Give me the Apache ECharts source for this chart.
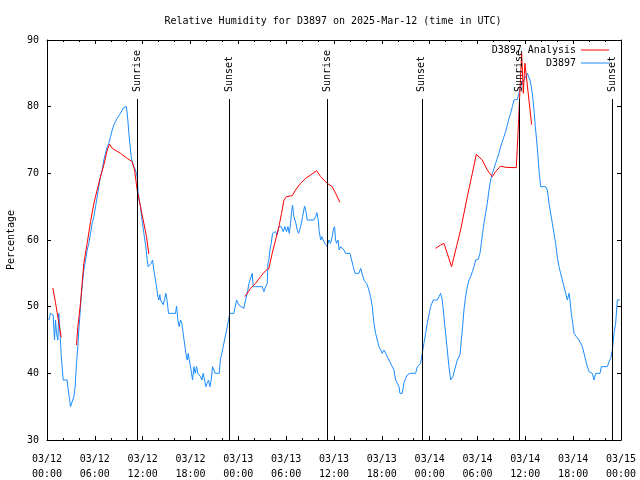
<!DOCTYPE html>
<html>
<head>
<meta charset="utf-8">
<script src="https://cdn.jsdelivr.net/npm/echarts@6/dist/echarts.min.js"></script>
<style>html,body{margin:0;padding:0;background:#fff;}#chart{width:640px;height:480px;}</style>
</head>
<body>
<div id="chart"></div>
<script>
// Hours since 2025-03-12 00:00 UTC
const obsHours = [0.23,0.44,0.77,0.94,1.07,1.19,1.36,1.48,1.61,1.78,1.90,2.03,2.53,2.61,2.78,2.95,3.20,3.37,3.53,3.70,3.87,3.99,4.12,4.29,4.45,4.62,4.83,5.04,5.25,5.46,5.67,5.88,6.09,6.29,6.50,6.71,6.92,7.13,7.34,7.55,7.76,7.97,8.18,8.39,8.59,8.80,9.01,9.22,9.43,9.64,9.85,9.97,10.14,10.27,10.39,10.56,10.73,10.89,11.10,11.31,11.44,11.56,11.73,11.86,11.98,12.15,12.27,12.40,12.57,12.69,12.90,13.07,13.24,13.40,13.61,13.74,13.91,14.03,14.16,14.24,14.41,14.57,14.74,14.91,15.08,15.24,16.12,16.25,16.42,16.58,16.75,16.92,17.08,17.25,17.42,17.59,17.71,17.84,18.00,18.26,18.42,18.59,18.76,18.92,19.09,19.26,19.43,19.59,19.76,19.93,20.10,20.26,20.43,20.60,20.77,20.93,21.10,21.60,21.77,21.94,22.10,22.27,22.44,22.61,22.77,22.94,
23.44,23.78,24.07,24.36,24.70,24.91,25.12,25.33,25.53,25.74,25.87,26.16,27.00,27.21,27.42,27.63,27.71,27.83,27.96,28.13,28.29,28.67,28.88,29.09,29.38,29.63,29.84,30.05,30.22,30.39,30.55,30.68,30.80,30.97,31.22,31.39,31.56,31.81,32.06,32.31,32.48,32.64,33.48,33.69,33.86,34.02,34.15,34.32,34.48,34.73,34.94,35.15,35.36,35.57,35.78,35.91,36.07,36.20,36.32,36.49,36.66,36.83,37.08,37.25,37.45,38.00,38.21,38.42,38.62,39.13,39.34,39.54,39.75,40.09,40.38,40.59,40.80,41.01,41.22,41.43,41.64,41.85,42.05,42.26,42.47,42.68,42.89,43.10,43.31,43.52,43.73,43.94,44.15,44.27,44.56,44.77,44.98,45.19,45.53,
46.24,46.45,46.86,47.07,47.28,47.49,47.70,47.91,48.12,48.45,48.96,49.17,49.37,49.58,49.79,50.00,50.21,50.42,50.63,50.75,50.92,51.13,51.47,51.80,51.97,52.13,52.30,52.51,52.72,52.93,53.14,53.35,53.56,53.77,54.10,54.31,54.48,54.64,54.81,55.02,55.23,55.44,55.65,55.86,56.07,56.27,56.48,56.69,56.90,57.11,57.32,57.53,57.74,57.95,58.16,58.37,58.58,59.00,59.20,59.41,59.62,59.83,60.04,60.25,60.37,60.58,60.75,60.92,61.09,61.25,61.42,61.59,61.75,61.92,62.55,62.76,62.97,63.18,63.39,63.59,63.80,64.01,64.22,64.43,64.64,64.85,65.06,65.27,65.48,65.60,65.77,65.94,66.11,66.40,66.73,66.94,67.15,67.36,67.57,67.78,67.99,68.20,68.40,68.61,68.82,69.37,69.53,70.29,70.50,70.71,70.92,71.12,71.33,71.54,71.87];
const obsValues = [48.0,49.0,48.75,45.0,48.0,46.0,45.0,49.0,46.5,42.75,41.0,39.0,39.0,38.0,36.5,35.0,35.0,36.5,38.0,41.5,44.0,46.5,48.5,51.5,53.5,55.5,57.0,58.5,59.5,61.0,62.5,63.5,65.0,66.5,68.0,69.5,70.5,72.0,73.0,74.0,74.5,75.5,76.5,77.25,77.75,78.25,78.5,79.0,79.5,79.9,80.1,80.0,78.0,76.0,74.5,72.5,71.5,71.0,70.5,69.5,67.0,66.0,65.0,63.5,62.5,61.0,60.0,59.0,57.0,56.0,56.0,56.5,57.0,55.5,54.0,53.0,51.5,51.0,51.8,51.0,51.3,50.3,51.0,52.0,50.8,49.0,49.0,50.1,48.0,47.0,48.0,47.5,46.0,46.0,43.0,42.0,43.0,42.0,41.0,39.0,41.0,40.0,41.0,40.0,40.0,39.5,39.0,40.0,39.0,38.0,38.5,39.0,38.0,39.0,41.0,40.5,40.0,40.0,42.25,43.0,44.0,45.0,46.0,47.0,48.0,49.0,
49.0,51.0,50.25,50.0,49.75,51.0,52.0,53.5,53.5,55.0,53.0,53.0,53.0,52.25,53.0,53.5,56.5,57.0,58.5,59.5,61.0,61.25,60.75,62.0,62.0,61.25,62.0,61.25,62.0,61.0,62.5,64.25,65.25,63.5,62.5,61.5,61.0,62.0,63.5,65.1,64.25,63.0,63.0,63.5,64.1,63.0,61.25,60.0,60.5,59.75,59.5,59.0,60.0,59.5,60.5,61.5,62.0,60.0,59.5,60.0,58.5,59.0,59.0,58.5,58.0,58.0,57.0,56.0,55.0,55.0,55.75,56.0,54.0,53.5,52.5,51.5,50.0,47.5,46.0,45.0,44.0,43.5,43.0,43.5,43.0,42.75,42.0,41.5,41.25,40.5,39.0,38.75,38.0,37.0,37.0,38.5,39.25,39.75,40.0,
40.0,41.0,41.5,43.0,44.5,46.0,47.5,48.75,50.0,51.0,51.0,51.5,52.0,51.0,48.5,46.0,43.5,41.0,39.0,38.75,39.5,40.5,42.0,42.75,45.0,47.0,49.5,51.5,53.0,54.0,54.5,55.25,56.0,57.0,57.1,58.0,59.5,61.0,62.5,64.0,65.5,67.5,69.0,70.0,70.75,71.5,72.25,73.0,74.0,74.75,75.5,76.25,77.25,78.25,79.0,80.0,81.0,81.1,82.0,83.0,83.5,84.0,84.25,85.0,85.1,84.0,83.0,81.5,79.5,77.0,75.0,72.5,70.0,68.0,68.0,67.5,65.5,64.0,62.5,61.0,59.5,57.5,56.0,55.0,54.0,53.0,52.0,51.0,52.0,51.0,49.0,47.5,46.0,45.5,45.0,44.75,44.0,43.0,42.0,41.0,40.25,40.0,40.0,39.0,40.0,40.0,41.0,41.0,41.75,42.25,43.5,46.0,47.5,51.0,51.0];

// Analysis: '-' marks a gap in the record
const anHours = [0.73,1.07,1.40,1.78,2.5,
3.70,3.87,4.20,4.62,5.04,5.46,5.88,6.29,6.71,7.13,7.55,7.84,8.18,9.22,10.06,10.69,10.98,11.31,11.73,12.15,12.48,12.78,18,
24.82,25.53,26.16,26.79,27.42,27.83,28.25,28.67,29.09,29.42,29.72,30.05,30.76,31.18,31.81,32.43,33.06,33.82,34.32,35.15,35.78,36.20,36.74,42,
48.75,49.37,49.79,50.75,51.88,52.72,53.35,53.85,54.60,55.23,55.86,56.27,56.90,57.53,58.87,59.08,59.25,59.54,59.75,59.95,60.79];
const anValues = [52.8,50.6,48.2,45.4,'-',
44.25,47.0,50.5,56.5,59.5,62.75,65.5,67.5,69.5,71.25,73.5,74.4,73.75,73.0,72.25,71.75,70.5,67.5,65.0,62.5,60.5,57.9,'-',
51.5,52.75,53.5,54.5,55.4,55.75,58.0,60.0,62.0,64.0,66.0,66.5,66.65,67.5,68.5,69.25,69.75,70.4,69.5,68.5,68.0,67.0,65.65,'-',
58.75,59.25,59.5,56.0,61.5,66.5,70.0,72.85,72.0,70.5,69.5,70.25,71.1,70.9,70.85,76.0,80.5,88.0,82.0,86.5,77.3];

const eventHours = [11.30, 22.91, 35.19, 47.02, 59.25, 70.90];
const eventNames = ['Sunrise','Sunset','Sunrise','Sunset','Sunrise','Sunset'];

const xTickLabels = ['03/12\n00:00','03/12\n06:00','03/12\n12:00','03/12\n18:00','03/13\n00:00','03/13\n06:00','03/13\n12:00','03/13\n18:00','03/14\n00:00','03/14\n06:00','03/14\n12:00','03/14\n18:00','03/15\n00:00'];
const yTicks = [30,40,50,60,70,80,90];

const FONT = 'DejaVu Sans Mono';
const EVENT_LINE_BOTTOM = 30, EVENT_LINE_TOP = 81.15, EVENT_LABEL_START = 82.2;

const obsData = obsHours.map((h,i)=>[h, obsValues[i]]);
const anData = anHours.map((h,i)=>[h, anValues[i]]);

const chart = echarts.init(document.getElementById('chart'), null, {renderer:'canvas'});
const tickCommon = {show:true, inside:true, length:4, lineStyle:{color:'#000', width:1}};
const minorCommon = {show:true, splitNumber:3, length:2, lineStyle:{color:'#000', width:1}};
const axisLineCommon = {show:true, onZero:false, lineStyle:{color:'#000', width:1}};

chart.setOption({
  animation:false,
  backgroundColor:'#fff',
  title:{text:'Relative Humidity for D3897 on 2025-Mar-12 (time in UTC)', left:328, textAlign:'center', top:11,
    textStyle:{fontFamily:FONT, fontSize:10, fontWeight:'normal', color:'#000'}},
  legend:{orient:'vertical', right:31, top:44, align:'right', icon:'rect', itemWidth:28, itemHeight:1, itemGap:1, padding:0,
    data:['D3897 Analysis','D3897'],
    textStyle:{fontFamily:FONT, fontSize:10, color:'#000', lineHeight:12}},
  grid:{left:47, right:19, top:40, bottom:40, containLabel:false, outerBoundsMode:'none'},
  xAxis:[{type:'value', min:0, max:72, interval:6, position:'bottom',
      axisLine:axisLineCommon, axisTick:tickCommon, minorTick:minorCommon, splitLine:{show:false},
      axisLabel:{fontFamily:FONT, fontSize:10, color:'#000', margin:12, lineHeight:15,
        formatter:(v)=>xTickLabels[Math.round(v/6)]}},
    {type:'value', min:0, max:72, interval:6, position:'top',
      axisLine:axisLineCommon, axisTick:tickCommon, minorTick:minorCommon, splitLine:{show:false}, axisLabel:{show:false}}],
  yAxis:[{type:'value', min:30, max:90, interval:10, position:'left', name:'Percentage', nameLocation:'middle', nameGap:31, nameRotate:90,
      nameTextStyle:{fontFamily:FONT, fontSize:10, color:'#000'},
      axisLine:axisLineCommon, axisTick:tickCommon, splitLine:{show:false},
      axisLabel:{fontFamily:FONT, fontSize:10, color:'#000', margin:8, formatter:(v)=>yTicks.includes(v)?String(v):''}},
    {type:'value', min:30, max:90, interval:10, position:'right',
      axisLine:axisLineCommon, axisTick:tickCommon, splitLine:{show:false}, axisLabel:{show:false}}],
  series:[
    {name:'D3897', type:'line', data:obsData, showSymbol:false, symbol:'none', lineStyle:{color:'#1a8cff', width:1}, itemStyle:{color:'#1a8cff'},
      markLine:{silent:true, symbol:'none', label:{show:false}, lineStyle:{color:'#000', width:1, type:'solid'},
        data:eventHours.map(h=>[{coord:[h, EVENT_LINE_BOTTOM]},{coord:[h, EVENT_LINE_TOP]}])},
      markPoint:{silent:true, symbol:'circle', symbolSize:0,
        label:{show:true, formatter:'{b}', position:'inside', rotate:90, align:'left', verticalAlign:'middle', fontFamily:FONT, fontSize:10, color:'#000'},
        data:eventHours.map((h,i)=>({name:eventNames[i], coord:[h, EVENT_LABEL_START]}))}
    },
    {name:'D3897 Analysis', type:'line', data:anData, showSymbol:false, symbol:'none', connectNulls:false, lineStyle:{color:'#ff0000', width:1}, itemStyle:{color:'#ff0000'}}
  ]
});
</script>
</body>
</html>
